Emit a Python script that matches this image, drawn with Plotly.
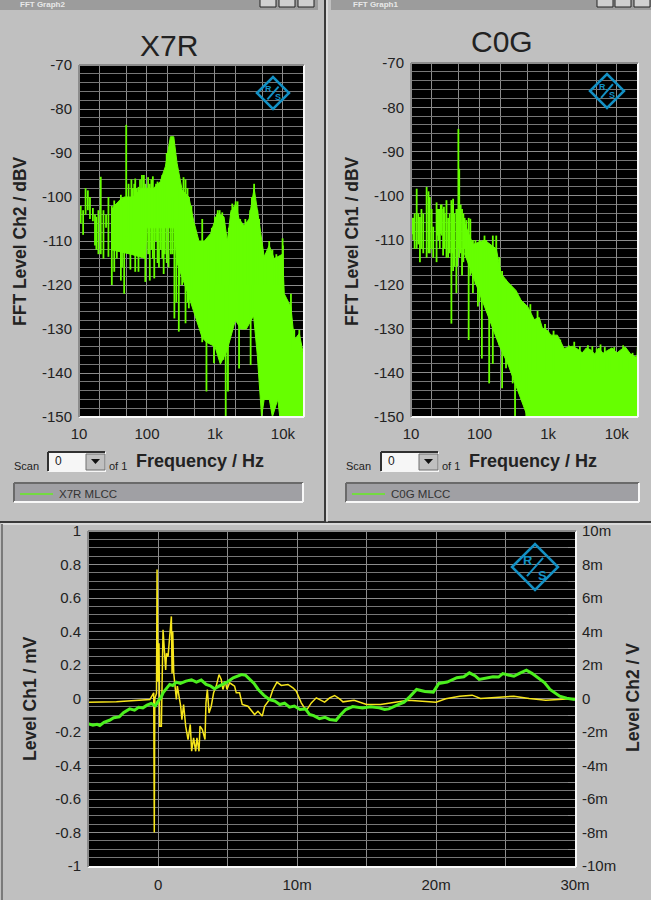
#!/usr/bin/env python3
# -*- coding: utf-8 -*-
"""
Analyzer screenshot: FFT of X7R and C0G MLCC, plus time domain capture
"""

import plotly.graph_objects as go

W, H = 651, 900

# X7R spectrum: solid core of the band
x7r_top_f = [30, 33, 41, 46, 58, 62, 84, 125, 157, 187, 221, 248, 277, 329, 413, 490, 581, 700, 863, 1082, 1358, 1521,
             1706, 2018, 2264, 2685, 3177, 3767, 4467, 5297, 6281, 7447, 9886, 10471, 13122, 14690, 17420, 20180]
x7r_top_db = [-103, -102, -100.5, -100, -100, -100, -98, -98, -96.5, -93, -86.3, -86.3, -92.3, -98.4, -100, -105.6,
              -110, -110, -108.3, -103.7, -104.5, -110, -103.5, -101.5, -105, -106.5, -105, -98, -105.6, -113.6, -111,
              -114, -113, -122, -125, -132.5, -131, -136]
x7r_bot_f = [30, 58, 95, 100, 250, 277, 400, 650, 750, 1000, 1200, 1500, 2000, 2400, 2900, 3700, 4200, 4850, 5300,
             6300, 7000, 8400, 9000, 9800, 20180]
x7r_bot_db = [-112, -113, -114, -107, -107, -115, -122, -132, -133, -134, -138, -135, -128, -130, -130, -127, -136,
              -150, -146, -146, -150, -146, -150, -150, -150]
# X7R spectrum: single strokes of the trace
x7r_stroke_f = [10, 10.6, 11.5, 12.5, 13.5, 14.5, 16, 17.2, 18, 19.3, 20.9, 22.9, 25, 27.1, 30.4, 33, 36, 41.3, 43,
                46.2, 49.5, 53.6, 57, 62, 67.2, 71, 75, 84.4, 94.5, 110, 128, 150, 176, 208, 238, 253, 270, 294, 329,
                369, 413, 490, 548, 650, 750, 863, 967, 1173, 1329, 1440, 1553, 1745, 2018, 2264, 2685, 3350, 3767,
                4467, 6281, 9886, 11066, 13122, 14690, 17420,
                59, 65, 79, 90, 104, 116, 122, 136, 143, 160, 168, 183, 195, 225, 300, 345, 395, 450, 900, 1000, 1100,
                1200, 1280, 1400, 1600, 1800, 1900, 2150, 2350, 2500, 2800, 3000, 3300, 3500, 3900, 4200, 5000, 5600,
                7000, 8000, 8800, 10000]
x7r_stroke_top = [-97.7, -102, -103, -98, -98.5, -100, -102.5, -104, -104.5, -103, -95.4, -103, -104, -100, -102,
                  -100.8, -104, -99.5, -102, -100, -83.6, -97, -100, -98, -95.8, -98, -97.7, -95, -97, -97, -98, -100,
                  -100, -100, -100, -105, -105, -100, -100, -96, -100, -106, -112, -105, -112, -110, -110, -103, -105,
                  -110, -120, -103, -101, -105, -107, -105, -97, -105, -110, -109.4, -123.8, -122, -130, -130.2,
                  -96, -97, -96, -95, -95.5, -96, -95.3, -97, -96.5, -98, -95, -94, -90, -87, -97, -95.5, -98, -102,
                  -107, -104.5, -103, -105, -103.5, -108, -107, -101.5, -103, -101, -105, -108, -105, -106, -103, -100,
                  -102, -103, -112, -113, -112, -113, -114, -111]
x7r_stroke_bot = [-105, -106, -108.6, -104, -103, -105, -105.5, -111, -112, -113, -113, -114, -107, -113.6, -120, -117,
                  -114, -119, -116, -122, -109, -108, -116.5, -111, -117, -110, -117, -113, -119.3, -119, -118.5, -116,
                  -117.5, -116, -113, -127.6, -124, -130.6, -120, -128.7, -125.3, -118, -122.6, -133, -144.2, -125.3,
                  -137.8, -119.6, -137, -150, -144.2, -118.8, -121.4, -139, -128, -138.2, -125.3, -137.5, -120, -125,
                  -135, -135, -138, -140,
                  -108, -110, -112, -108, -113, -112, -114, -110, -115, -112, -114, -113, -115, -113, -120, -118, -124,
                  -121, -120, -120, -120, -120, -120, -120, -120, -120, -120, -120, -120, -120, -120, -120, -120, -120,
                  -120, -120, -120, -120, -120, -120, -120, -120]

# C0G spectrum: solid core of the band
c0g_top_f = [60, 80, 118, 175, 206, 258, 340, 402, 501, 627, 741, 828, 977, 1094, 1365, 1706, 2254, 2661, 3147, 3600,
             4150, 4800, 5483, 6300, 7244, 8500, 10116, 11500, 13366, 15776, 18621, 19724, 20137]
c0g_top_db = [-106, -111, -110, -112, -117.6, -119.5, -121.4, -123.6, -125, -128, -127.5, -130, -130.4, -131.5, -131.5,
              -134.5, -134, -134.6, -135.5, -134.4, -134.8, -135.8, -134.4, -135.6, -135, -134.4, -135.5, -134.8, -134.2,
              -135.7, -136.4, -136.2, -133.4]
c0g_bot_f = [60, 67, 100, 140, 195, 258, 340, 402, 501, 20137]
c0g_bot_db = [-113, -115, -122, -128, -134, -138, -143, -146, -150, -150]
# C0G spectrum: single strokes of the trace
c0g_stroke_f = [10, 10.4, 10.8, 11.3, 12.1, 12.8, 13.5, 14.2, 15.1, 16.9, 18, 18.8, 20, 21.1, 23.6, 25, 26.3, 28, 29.4,
                31, 32.9, 34.8, 36.7, 38.8, 41.1, 43, 45.9, 49.1, 50.5, 55.5, 60.6, 64.1, 69.3, 73.3, 80, 87, 94.6,
                100, 108, 118, 125, 138, 156, 175, 195, 213, 243, 272, 304, 329, 380, 402, 449, 480,
                24.3, 27.2, 30.2, 35.8, 39.9, 47, 53, 58, 550, 700, 900, 1200, 1500, 1900, 2000, 2400, 2900, 3300, 3800,
                4400, 5100, 5800, 6700, 7800, 9200, 10800, 12400, 14500, 17000]
c0g_stroke_top = [-104, -105, -105, -104, -98.4, -104, -104.8, -103, -104, -98, -99, -100.3, -103, -107, -101.5, -103,
                  -103, -102, -103, -104, -101, -105, -104, -101, -100.7, -104, -103, -84.9, -93.9, -103, -105, -105.5,
                  -105, -105.2, -110, -110, -111, -110, -111, -109, -110, -113, -109, -109, -113.9, -117, -119, -120,
                  -121, -122, -123, -123.6, -125, -125,
                  -103, -102, -102.5, -105, -102, -103, -102, -104, -124.5, -126, -129, -130.5, -132.5, -135.5, -133.8,
                  -133, -134, -136, -133.8, -134, -134.5, -133.6, -134.2, -136, -134.2, -135.8, -133.8, -136.5, -135.5]
c0g_stroke_bot = [-107.5, -108.7, -110, -112, -112, -111, -115, -112, -113, -114, -113, -113, -112, -114, -115, -110,
                  -112, -109, -113.5, -112, -114, -114, -113, -128.9, -117, -116, -122, -112, -114, -118, -112, -114,
                  -132.6, -118, -122, -120, -125, -124, -136.8, -122, -124.5, -142.4, -138, -128, -133.8, -143.5, -139,
                  -137, -142.4, -150, -141, -142, -147, -150,
                  -109, -108.6, -108.6, -109, -113, -116, -113, -115, -140, -140, -140, -140, -140, -140, -140, -140,
                  -140, -140, -140, -140, -140, -140, -140, -140, -140, -140, -140, -140, -140]

# time domain capture, t in ms
ch2_t = [-5.05, -4.7, -4.4, -4.2, -3.9, -3.5, -3.2, -2.8, -2.5, -2.05, -1.7, -1.4, -1.1, -0.8, -0.5, -0.2, 0, 0.2, 0.35,
         0.6, 0.83, 1.05, 1.3, 1.6, 2, 2.4, 2.75, 3.1, 3.45, 3.75, 4.05, 4.35, 4.65, 5, 5.4, 5.7, 6, 6.3, 6.6, 6.9, 7.2,
         7.6, 8, 8.4, 8.75, 9.1, 9.45, 9.8, 10.2, 10.6, 10.9, 11.2, 11.6, 12, 12.34, 12.8, 13.1, 13.5, 14, 14.7, 15.3,
         15.9, 16.3, 16.6, 17.2, 17.7, 18.1, 18.6, 19.2, 19.8, 20.2, 20.8, 21.5, 22, 22.4, 22.8, 23.1, 23.6, 24.1, 24.5,
         24.8, 25.2, 25.6, 26, 26.5, 26.9, 27.3, 27.8, 28.2, 28.6, 28.9, 29.4, 30]
ch2_mv = [-1.51, -1.6, -1.54, -1.61, -1.42, -1.3, -1.15, -1.1, -0.85, -0.62, -0.7, -0.52, -0.56, -0.4, -0.3, -0.45,
          -0.16, 0.05, 0.34, 0.6, 0.84, 0.78, 0.98, 0.9, 1.04, 1.12, 0.98, 1.1, 0.84, 0.76, 0.58, 0.72, 0.84, 1.0, 1.24,
          1.32, 1.43, 1.38, 1.14, 0.9, 0.54, 0.2, -0.06, -0.15, -0.36, -0.28, -0.52, -0.45, -0.66, -0.62, -0.96, -1.02,
          -1.2, -1.12, -1.25, -1.3, -1.0, -0.66, -0.48, -0.56, -0.5, -0.56, -0.66, -0.62, -0.4, -0.22, 0.1, 0.54, 0.42,
          0.38, 0.9, 0.98, 1.24, 1.3, 1.53, 1.36, 1.14, 1.22, 1.3, 1.28, 1.49, 1.4, 1.33, 1.5, 1.69, 1.5, 1.24, 0.95, 0.54,
          0.3, 0.14, 0.02, -0.06]
ch1_t = [-5.05, -3, -0.6, -0.32, -0.28, -0.24, -0.12, -0.08, -0.02, 0.01, 0.06, 0.11, 0.23, 0.3, 0.35, 0.54, 0.6, 0.71,
         0.95, 1, 1.05, 1.12, 1.19, 1.31, 1.38, 1.5, 1.62, 1.71, 1.83, 1.98, 2.15, 2.31, 2.41, 2.55, 2.7, 2.79, 2.94,
         3.01, 3.18, 3.37, 3.44, 3.54, 3.66, 3.82, 3.99, 4.18, 4.38, 4.54, 4.66, 4.83, 4.95, 5.14, 5.5, 5.62, 5.86, 6.05,
         6.46, 6.94, 7.18, 7.49, 7.66, 8.02, 8.26, 8.55, 8.86, 9.34, 9.7, 9.94, 10.3, 10.66, 11.02, 11.38, 11.74, 11.98,
         12.34, 12.7, 13.06, 13.3, 14.1, 15, 16, 17.1, 18, 20, 20.7, 21.7, 22.6, 23.2, 24.8, 25.6, 26.7, 27.9, 30]
ch1_mv = [-0.022, -0.02, -0.006, 0.034, -0.8, 0, 0.03, 0.77, 0.1, 0.13, 0.33, -0.165, -0.165, 0.2, 0.41, 0.17, 0.27,
          0.25, 0.49, 0.15, 0.4, 0.153, 0.094, -0.006, 0.074, 0.014, -0.046, -0.126, -0.036, -0.165, -0.245, -0.155,
          -0.315, -0.235, -0.315, -0.235, -0.315, -0.165, -0.185, -0.245, -0.026, 0.054, -0.086, -0.046, 0.034, 0.074,
          0.143, 0.114, 0.054, 0.104, 0.054, 0.094, 0.074, 0.034, 0.034, -0.036, -0.046, -0.096, -0.076, -0.105, -0.046,
          -0.006, 0.054, 0.098, 0.078, 0.084, 0.064, 0.044, -0.026, -0.072, -0.026, 0.004, -0.01, -0.022, 0.004, 0.018,
          -0.002, -0.02, -0.01, -0.036, -0.036, -0.022, -0.01, -0.022, -0.002, 0.014, 0.02, 0, 0.008, 0.014, 0, -0.01, 0]

freq_ticks = [10, 100, 1000, 10000]
freq_tick_text = ['10', '100', '1k', '10k']
freq_minor = [20, 50, 200, 500, 2000, 5000, 20000]
db_ticks = [-70, -80, -90, -100, -110, -120, -130, -140, -150]
db_tick_text = ['-70', '-80', '-90', '-100', '-110', '-120', '-130', '-140', '-150']
ch1_ticks = [1, 0.8, 0.6, 0.4, 0.2, 0, -0.2, -0.4, -0.6, -0.8, -1]
ch1_tick_text = ['1', '0.8', '0.6', '0.4', '0.2', '0', '-0.2', '-0.4', '-0.6', '-0.8', '-1']
ch2_ticks = [10, 8, 6, 4, 2, 0, -2, -4, -6, -8, -10]
ch2_tick_text = ['10m', '8m', '6m', '4m', '2m', '0', '-2m', '-4m', '-6m', '-8m', '-10m']
ch2_minor = [9, 7, 5, 3, 1, -1, -3, -5, -7, -9]
time_ticks = [0, 10, 20, 30]
time_tick_text = ['0', '10m', '20m', '30m']

GREEN = '#66ff00'
TRACE2 = '#4cf01e'
YELLOW = '#f7e61c'
PANEL = '#c0c0c0'
GRID = '#8c8c8c'
MINOR = '#777777'
TEXT = '#222222'
FONT = 'Liberation Sans'
LOGO = '#1390c4'


def px(x):
    return x / W


def py(y):
    return 1 - y / H


def box(x0, y0, x1, y1, fill, line=None):
    return dict(type='rect', xref='paper', yref='paper', x0=px(x0), x1=px(x1), y0=py(y1), y1=py(y0),
                fillcolor=fill, line=dict(width=1 if line else 0, color=line or fill))


def seg(x0, y0, x1, y1, color, width=1):
    return dict(type='line', xref='paper', yref='paper', x0=px(x0), x1=px(x1), y0=py(y0), y1=py(y1),
                line=dict(color=color, width=width))


def label(x, y, text, size=13, bold=False, angle=0, anchor='center', color=TEXT):
    return dict(xref='paper', yref='paper', x=px(x), y=py(y), text='<b>%s</b>' % text if bold else text,
                showarrow=False, textangle=angle, xanchor=anchor, yanchor='middle',
                font=dict(family=FONT, size=size, color=color))


def logo(cx, cy, r):
    # R&S diamond with its slash
    path = 'M %f %f L %f %f L %f %f L %f %f Z' % (px(cx - r), py(cy), px(cx), py(cy - r), px(cx + r), py(cy),
                                                  px(cx), py(cy + r))
    return [dict(type='path', xref='paper', yref='paper', path=path, line=dict(color=LOGO, width=2.5)),
            seg(cx - r * 0.35, cy + r * 0.4, cx + r * 0.35, cy - r * 0.4, LOGO, 2)]


def strokes(f, top, bot):
    xs, ys = [], []
    for a, b, c in zip(f, top, bot):
        xs += [a, a, None]
        ys += [b, c, None]
    return xs, ys


fig = go.Figure()

# 1. X7R
fig.add_trace(go.Scatter(x=x7r_top_f + x7r_bot_f[::-1], y=x7r_top_db + x7r_bot_db[::-1], mode='lines', fill='toself',
                         fillcolor=GREEN, line=dict(color=GREEN, width=1), xaxis='x', yaxis='y'))
sx, sy = strokes(x7r_stroke_f, x7r_stroke_top, x7r_stroke_bot)
fig.add_trace(go.Scatter(x=sx, y=sy, mode='lines', line=dict(color=GREEN, width=1.8), xaxis='x', yaxis='y'))
# 2. C0G
fig.add_trace(go.Scatter(x=c0g_top_f + c0g_bot_f[::-1], y=c0g_top_db + c0g_bot_db[::-1], mode='lines', fill='toself',
                         fillcolor=GREEN, line=dict(color=GREEN, width=1), xaxis='x2', yaxis='y2'))
sx, sy = strokes(c0g_stroke_f, c0g_stroke_top, c0g_stroke_bot)
fig.add_trace(go.Scatter(x=sx, y=sy, mode='lines', line=dict(color=GREEN, width=1.8), xaxis='x2', yaxis='y2'))
# 3. time domain
fig.add_trace(go.Scatter(x=ch2_t, y=ch2_mv, mode='lines', line=dict(color=TRACE2, width=3), xaxis='x3', yaxis='y4'))
fig.add_trace(go.Scatter(x=ch1_t, y=ch1_mv, mode='lines', line=dict(color=YELLOW, width=1.5), xaxis='x3', yaxis='y3'))


def freq_axis(x0, x1, anchor):
    return dict(type='log', range=[1, 4.31], domain=[px(x0), px(x1)], anchor=anchor, tickvals=freq_ticks,
                ticktext=freq_tick_text, showgrid=True, gridcolor=GRID, gridwidth=1, zeroline=False, ticks='',
                ticklabelstandoff=6, tickfont=dict(family=FONT, size=15, color=TEXT),
                minor=dict(tickvals=freq_minor, showgrid=True, gridcolor=GRID, gridwidth=1, ticks=''))


def db_axis(y0, y1, anchor):
    return dict(range=[-150, -70], domain=[py(y1), py(y0)], anchor=anchor, tickvals=db_ticks, ticktext=db_tick_text,
                showgrid=True, gridcolor=GRID, gridwidth=1, zeroline=False, ticks='', ticklabelstandoff=6,
                tickfont=dict(family=FONT, size=15, color=TEXT),
                minor=dict(dtick=2, showgrid=True, gridcolor=MINOR, gridwidth=1, ticks=''))


shapes = [
    # window chrome
    box(0, 0, 651, 10, '#9c9c9c'),
    box(318, 0, 331, 10, PANEL),
    seg(325, 0, 325, 522, '#3a3a3a', 2),
    seg(0, 522, 651, 522, '#3a3a3a', 2),
    seg(327, 0, 327, 522, '#f4f4f4', 1),
    seg(1, 524, 651, 524, '#f4f4f4', 1),
    seg(2, 524, 2, 900, '#7a7a7a', 2),
    # frames
    seg(79, 417, 304, 417, '#f8f8f8', 2), seg(304, 65, 304, 417, '#f8f8f8', 2),
    seg(79, 65, 304, 65, '#8c8c8c', 2), seg(79, 65, 79, 417, '#8c8c8c', 2),
    seg(411, 417, 638, 417, '#f8f8f8', 2), seg(638, 63, 638, 417, '#f8f8f8', 2),
    seg(411, 63, 638, 63, '#8c8c8c', 2), seg(411, 63, 411, 417, '#8c8c8c', 2),
    seg(88, 867, 576, 867, '#f8f8f8', 2), seg(576, 531, 576, 867, '#f8f8f8', 2),
    seg(88, 531, 576, 531, '#8c8c8c', 2), seg(88, 531, 88, 867, '#8c8c8c', 2),
] + logo(273, 93, 16) + logo(607, 91, 17) + logo(535, 567, 23)
# window buttons
for bx in [260, 279, 298, 597, 615, 634]:
    shapes.append(box(bx, -2, bx + 16, 7, '#d0d0d0', '#222222'))
# scan combo and legend boxes
for cx, lx0, lx1 in [(48, 14, 303), (381, 346, 639)]:
    shapes += [
        box(cx, 452, cx + 58, 472, '#f6f6f6'),
        seg(cx, 452, cx + 57, 452, '#303030', 2),
        seg(cx, 452, cx, 471, '#303030', 2),
        box(cx + 38, 454, cx + 57, 470, '#c0c0c0', '#707070'),
        dict(type='path', xref='paper', yref='paper',
             path='M %f %f L %f %f L %f %f Z' % (px(cx + 43), py(459), px(cx + 52), py(459), px(cx + 47.5), py(464)),
             fillcolor='#111111', line=dict(width=0)),
        box(lx0, 483, lx1, 502, '#a0a0a4'),
        seg(lx0, 483, lx1, 483, '#6a6a6a', 2),
        seg(lx0, 483, lx0, 502, '#6a6a6a', 2),
        seg(lx0, 502, lx1, 502, '#f8f8f8', 2),
        seg(lx1, 483, lx1, 502, '#f8f8f8', 2),
        seg(lx0 + 6, 494, lx0 + 39, 494, '#66ee22', 1.5),
    ]

annotations = [
    label(169, 45, 'X7R', 30),
    label(502, 42, 'C0G', 30),
    label(20, 241, 'FFT Level Ch2 / dBV', 17.5, True, -90),
    label(352, 241, 'FFT Level Ch1 / dBV', 17.5, True, -90),
    label(200, 461, 'Frequency / Hz', 18, True),
    label(533, 461, 'Frequency / Hz', 18, True),
    label(12, 466, 'Scan', 11, anchor='left'),
    label(344, 466, 'Scan', 11, anchor='left'),
    label(53, 461, '0', 12, anchor='left'),
    label(386, 461, '0', 12, anchor='left'),
    label(107, 466, 'of 1', 11, anchor='left'),
    label(440, 466, 'of 1', 11, anchor='left'),
    label(57, 494, 'X7R MLCC', 11.5, anchor='left', color='#333333'),
    label(389, 494, 'C0G MLCC', 11.5, anchor='left', color='#333333'),
    label(18, 5, 'FFT Graph2', 8, True, anchor='left', color='#e8e8e8'),
    label(351, 5, 'FFT Graph1', 8, True, anchor='left', color='#e8e8e8'),
    label(30, 699, 'Level Ch1 / mV', 17.5, True, -90),
    label(633, 698, 'Level Ch2 / V', 17.5, True, -90),
    label(268, 89, 'R', 9, True, color=LOGO),
    label(278, 97, 'S', 9, True, color=LOGO),
    label(602, 87, 'R', 9, True, color=LOGO),
    label(612, 95, 'S', 9, True, color=LOGO),
    label(528, 560, 'R', 13, True, color=LOGO),
    label(542, 575, 'S', 13, True, color=LOGO),
]

fig.update_layout(
    width=W, height=H, autosize=False, margin=dict(l=0, r=0, t=0, b=0, autoexpand=False),
    paper_bgcolor=PANEL, plot_bgcolor='black', showlegend=False,
    xaxis=freq_axis(79, 304, 'y'), yaxis=db_axis(65, 417, 'x'),
    xaxis2=freq_axis(411, 638, 'y2'), yaxis2=db_axis(63, 417, 'x2'),
    xaxis3=dict(range=[-5.05, 30], domain=[px(88), px(575)], anchor='y3', tickvals=time_ticks, ticktext=time_tick_text,
                showgrid=True, gridcolor=GRID, zeroline=False, ticks='', ticklabelstandoff=8,
                tickfont=dict(family=FONT, size=15, color=TEXT),
                minor=dict(dtick=5, showgrid=True, gridcolor=GRID, ticks='')),
    yaxis3=dict(range=[-1, 1], domain=[py(866), py(531)], anchor='x3', tickvals=ch1_ticks, ticktext=ch1_tick_text,
                showgrid=True, gridcolor=GRID, zeroline=False, ticks='', ticklabelstandoff=6,
                tickfont=dict(family=FONT, size=15, color=TEXT),
                minor=dict(dtick=0.05, showgrid=True, gridcolor=MINOR, ticks='')),
    yaxis4=dict(range=[-10, 10], domain=[py(866), py(531)], anchor='x3', overlaying='y3', side='right',
                tickvals=ch2_ticks, ticktext=ch2_tick_text, showgrid=False, zeroline=False, ticks='',
                ticklabelstandoff=6, tickfont=dict(family=FONT, size=15, color=TEXT),
                minor=dict(tickvals=ch2_minor, ticks='inside', ticklen=7, tickcolor=GRID, showgrid=False)),
    shapes=shapes, annotations=annotations,
)

fig.write_html("out.html", config={'displayModeBar': False},
               post_script="document.body.style.margin='0';document.documentElement.style.overflow='hidden';")
